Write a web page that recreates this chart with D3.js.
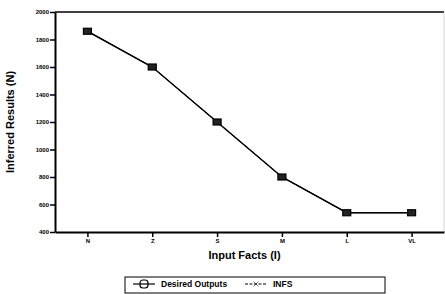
<!DOCTYPE html>
<html>
<head>
<meta charset="utf-8">
<script src="https://cdn.jsdelivr.net/npm/d3@7"></script>
<style>
  body { margin: 0; background: #fff; }
  text { font-family: "Liberation Sans", Arial, sans-serif; font-weight: bold; fill: #000; }
</style>
</head>
<body>
<svg id="drawing_region"></svg>
<script>
const categories = ["N", "Z", "S", "M", "L", "VL"];
const desired = [1860, 1600, 1200, 800, 540, 540];
const infs = [1860, 1600, 1200, 800, 540, 540];
const yticks = [400, 600, 800, 1000, 1200, 1400, 1600, 1800, 2000];

const width = 445, height = 294;
const margin = {top: 12, right: 1, bottom: 62, left: 55};
const inner_width = width - margin.left - margin.right;
const inner_height = height - margin.top - margin.bottom;

const svg = d3.select('#drawing_region')
    .attr('width', width)
    .attr('height', height);

const chart = svg.append('g')
    .attr('transform', `translate(${margin.left}, ${margin.top})`);

const xscale = d3.scalePoint()
    .domain(categories)
    .range([0, inner_width])
    .padding(0.5);

const yscale = d3.scaleLinear()
    .domain([400, 2000])
    .range([inner_height, 0]);

// frame top / right
chart.append('line')
    .attr('x1', 0).attr('x2', inner_width)
    .attr('y1', 0).attr('y2', 0)
    .attr('stroke', '#000').attr('stroke-width', 1.5);
chart.append('line')
    .attr('x1', inner_width).attr('x2', inner_width)
    .attr('y1', 0).attr('y2', inner_height)
    .attr('stroke', '#bbb').attr('stroke-width', 0.6);

const xaxis = d3.axisBottom(xscale).tickSize(5).tickSizeOuter(0).tickPadding(2);
const yaxis = d3.axisLeft(yscale).tickValues(yticks).tickFormat(d3.format('d'))
    .tickSize(5).tickSizeOuter(0).tickPadding(1);

const xg = chart.append('g')
    .attr('transform', `translate(0, ${inner_height})`)
    .call(xaxis);
const yg = chart.append('g').call(yaxis);

[xg, yg].forEach(g => {
    g.select('.domain').attr('stroke-width', 2);
    g.selectAll('.tick line').attr('stroke-width', 1.5);
    g.selectAll('text').style('font-size', '6px').style('font-weight', 'bold')
        .style('font-family', '"Liberation Sans", Arial, sans-serif');
});

// axis titles
svg.append('text')
    .attr('x', margin.left + inner_width / 2 - 5)
    .attr('y', margin.top + inner_height + 27)
    .attr('text-anchor', 'middle')
    .style('font-size', '11px')
    .text('Input Facts (I)');

svg.append('text')
    .attr('transform', `translate(14, ${margin.top + inner_height / 2}) rotate(-90)`)
    .attr('text-anchor', 'middle')
    .style('font-size', '11px')
    .text('Inferred Results (N)');

const line = d3.line()
    .x((d, i) => xscale(categories[i]))
    .y(d => yscale(d));

chart.append('path')
    .datum(desired)
    .attr('d', line)
    .attr('fill', 'none')
    .attr('stroke', '#000')
    .attr('stroke-width', 1.5);

chart.append('path')
    .datum(infs)
    .attr('d', line)
    .attr('fill', 'none')
    .attr('stroke', '#000')
    .attr('stroke-width', 1);

// desired output markers: squares
chart.selectAll('rect.desired')
    .data(desired)
    .enter()
    .append('rect')
    .attr('class', 'desired')
    .attr('x', (d, i) => xscale(categories[i]) - 4)
    .attr('y', d => yscale(d) - 3)
    .attr('width', 8)
    .attr('height', 6)
    .attr('fill', '#222')
    .attr('stroke', '#000')
    .attr('stroke-width', 1.2);

// INFS markers: small crosses
chart.selectAll('path.infs')
    .data(infs)
    .enter()
    .append('path')
    .attr('class', 'infs')
    .attr('d', d3.symbol().type(d3.symbolTimes).size(16))
    .attr('transform', (d, i) => `translate(${xscale(categories[i])}, ${yscale(d)})`)
    .attr('fill', '#777');

// legend
const legend = svg.append('g').attr('transform', 'translate(125, 277)');
legend.append('rect')
    .attr('x', 0).attr('y', 0)
    .attr('width', 260).attr('height', 16)
    .attr('fill', 'none').attr('stroke', '#000').attr('stroke-width', 1);

legend.append('line')
    .attr('x1', 8).attr('x2', 30).attr('y1', 7).attr('y2', 7)
    .attr('stroke', '#000').attr('stroke-width', 1.2);
legend.append('rect')
    .attr('x', 15).attr('y', 3).attr('width', 8).attr('height', 8)
    .attr('rx', 3)
    .attr('fill', 'none').attr('stroke', '#000').attr('stroke-width', 1.2);
legend.append('text')
    .attr('x', 36).attr('y', 10)
    .style('font-size', '8.5px')
    .text('Desired Outputs');

legend.append('line')
    .attr('x1', 120).attr('x2', 142).attr('y1', 7).attr('y2', 7)
    .attr('stroke', '#000').attr('stroke-width', 1)
    .attr('stroke-dasharray', '3,1.5');
legend.append('path')
    .attr('d', d3.symbol().type(d3.symbolTimes).size(18))
    .attr('transform', 'translate(131, 7)')
    .attr('fill', '#000')
    .attr('stroke', '#000').attr('stroke-width', 0.5);
legend.append('text')
    .attr('x', 148).attr('y', 10)
    .style('font-size', '8.5px')
    .text('INFS');
</script>
</body>
</html>
